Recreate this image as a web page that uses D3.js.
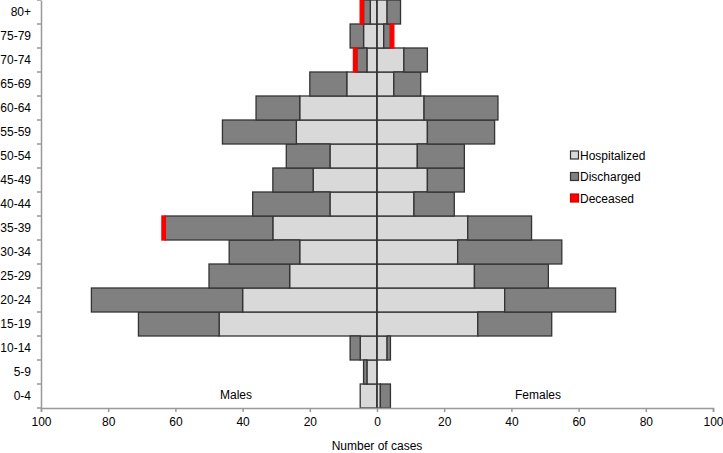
<!DOCTYPE html>
<html>
<head>
<meta charset="utf-8">
<script src="https://cdn.jsdelivr.net/npm/d3@7/dist/d3.min.js"></script>
<style>
  html, body { margin: 0; padding: 0; background: #fff; }
  svg { display: block; font-family: "Liberation Sans", Arial, sans-serif; }
</style>
</head>
<body>
<svg id="chart" width="723" height="453"></svg>
<script>
// Age groups, bottom (0-4) to top (80+)
const ageGroups = ["0-4","5-9","10-14","15-19","20-24","25-29","30-34","35-39","40-44","45-49","50-54","55-59","60-64","65-69","70-74","75-79","80+"];
const maleHospitalized   = [5,3,5,47,40,26,23,31,14,19,14,24,23,9,3,4,2];
const maleDischarged     = [0,1,3,24,45,24,21,32,23,12,13,22,13,11,3,4,2];
const maleDeceased       = [0,0,0,0,0,0,0,1,0,0,0,0,0,0,1,0,1];
const femaleHospitalized = [1,0,3,30,38,29,24,27,11,15,12,15,14,5,8,2,3];
const femaleDischarged   = [3,0,1,22,33,22,31,19,12,11,14,20,22,8,7,2,4];
const femaleDeceased     = [0,0,0,0,0,0,0,0,0,0,0,0,0,0,0,1,0];
const xTickValues = [-100,-80,-60,-40,-20,0,20,40,60,80,100];
const seriesNames = ["Hospitalized","Discharged","Deceased"];

const colors = { Hospitalized: "#d9d9d9", Discharged: "#808080", Deceased: "#ff0000" };
const strokes = { Hospitalized: "#333333", Discharged: "#333333", Deceased: "#ff0000" };

const svg = d3.select("#chart");
const x = d3.scaleLinear().domain([-100, 100]).range([41, 713]);
const y = d3.scaleBand().domain(ageGroups.slice().reverse()).range([0, 408]).padding(0);

// Build segments
const segs = [];
ageGroups.forEach((g, i) => {
  const m = [maleHospitalized[i], maleDischarged[i], maleDeceased[i]];
  const f = [femaleHospitalized[i], femaleDischarged[i], femaleDeceased[i]];
  let cm = 0, cf = 0;
  seriesNames.forEach((s, k) => {
    if (m[k] > 0) segs.push({ g, s, x0: -(cm + m[k]), x1: -cm });
    cm += m[k];
    if (f[k] > 0) segs.push({ g, s, x0: cf, x1: cf + f[k] });
    cf += f[k];
  });
});

const order = { Hospitalized: 0, Discharged: 1, Deceased: 2 };
segs.sort((a, b) => order[a.s] - order[b.s]);

svg.append("g").selectAll("rect").data(segs).join("rect")
  .attr("x", d => x(d.x0))
  .attr("width", d => x(d.x1) - x(d.x0))
  .attr("y", d => y(d.g))
  .attr("height", y.bandwidth())
  .attr("fill", d => colors[d.s])
  .attr("stroke", d => strokes[d.s])
  .attr("stroke-width", d => d.s === "Deceased" ? 1.4 : 1.3);

// Center line
svg.append("line")
  .attr("x1", x(0)).attr("x2", x(0))
  .attr("y1", 0).attr("y2", 408)
  .attr("stroke", "#333").attr("stroke-width", 1.3);

// Bottom axis
const xAxis = d3.axisBottom(x).tickValues(xTickValues).tickFormat(d => Math.abs(d)).tickSize(4).tickPadding(5);
const gx = svg.append("g").attr("transform", "translate(0,408)").call(xAxis);
gx.select(".domain").attr("stroke", "#999").attr("stroke-width", 1.5);
gx.selectAll(".tick line").attr("stroke", "#999").attr("stroke-width", 1.5);
gx.selectAll(".tick text").attr("fill", "#000").style("font-size", "12px").style("font-family", "Liberation Sans, Arial, sans-serif");

// Left axis
const yAxis = d3.axisLeft(y).tickSize(0).tickPadding(10);
const gy = svg.append("g").attr("transform", "translate(41,0)").call(yAxis);
gy.select(".domain").attr("stroke", "#999").attr("stroke-width", 1.5);
gy.selectAll(".tick text").attr("fill", "#000").style("font-size", "12px").style("font-family", "Liberation Sans, Arial, sans-serif");
const boundaries = y.domain().map(d => y(d)).concat([408]);
gy.selectAll(".bt").data(boundaries).join("line")
  .attr("x1", -4).attr("x2", 0)
  .attr("y1", d => d).attr("y2", d => d)
  .attr("stroke", "#999").attr("stroke-width", 1.5);

// Labels
svg.append("text").attr("x", 236).attr("y", 399).attr("text-anchor", "middle")
  .style("font-size", "12px").text("Males");
svg.append("text").attr("x", 538).attr("y", 399).attr("text-anchor", "middle")
  .style("font-size", "12px").text("Females");
svg.append("text").attr("x", x(0)).attr("y", 450).attr("text-anchor", "middle")
  .style("font-size", "12px").text("Number of cases");

// Legend
const legend = svg.append("g").attr("transform", "translate(570,150)");
seriesNames.forEach((s, i) => {
  const g = legend.append("g").attr("transform", `translate(0,${i * 21.5})`);
  g.append("rect").attr("x", 0.5).attr("y", 1).attr("width", 8).attr("height", 8)
    .attr("fill", colors[s]).attr("stroke", s === "Deceased" ? "#cc0000" : "#333").attr("stroke-width", 1.2);
  g.append("text").attr("x", 10).attr("y", 9.5).style("font-size", "12px").text(s);
});
</script>
</body>
</html>
